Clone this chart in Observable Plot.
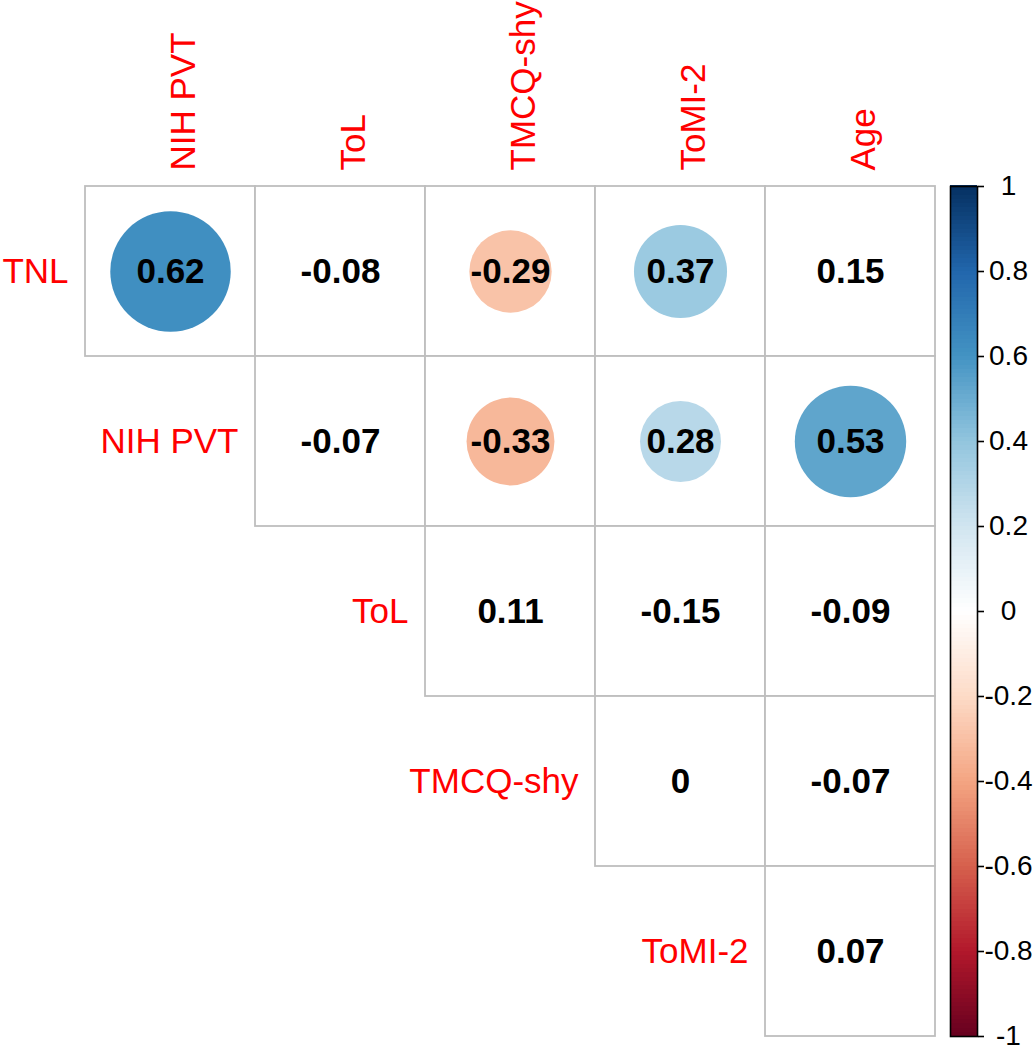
<!DOCTYPE html>
<html>
<head>
<meta charset="utf-8">
<script src="https://cdn.jsdelivr.net/npm/d3@7"></script>
<script src="https://cdn.jsdelivr.net/npm/@observablehq/plot@0.6"></script>
<style>
  html, body { margin: 0; padding: 0; background: #ffffff; }
  #wrap { position: relative; width: 1035px; height: 1050px; background: #ffffff; font-family: "Liberation Sans", Arial, sans-serif; }
  #wrap svg { overflow: visible; }
  #main { position: absolute; left: 0; top: 0; }
  #bar { position: absolute; left: 950px; top: 0; }
</style>
</head>
<body>
<div id="wrap"><div id="main"></div><div id="bar"></div></div>
<script>
// ---- data ----
const rowLabels = ["TNL", "NIH PVT", "ToL", "TMCQ-shy", "ToMI-2"];
const colLabels = ["NIH PVT", "ToL", "TMCQ-shy", "ToMI-2", "Age"];
// correlations per row (null = empty lower-triangle cell)
const corrTNL     = [0.62, -0.08, -0.29, 0.37, 0.15];
const corrNIHPVT  = [null, -0.07, -0.33, 0.28, 0.53];
const corrToL     = [null, null, 0.11, -0.15, -0.09];
const corrTMCQshy = [null, null, null, 0, -0.07];
const corrToMI2   = [null, null, null, null, 0.07];
// significance flags (circle drawn when true)
const sigTNL     = [true, false, true, true, false];
const sigNIHPVT  = [false, false, true, true, true];
const sigToL     = [false, false, false, false, false];
const sigTMCQshy = [false, false, false, false, false];
const sigToMI2   = [false, false, false, false, false];
// colour legend
const legendTicks = [-1, -0.8, -0.6, -0.4, -0.2, 0, 0.2, 0.4, 0.6, 0.8, 1];
const paletteStops = [-1, -0.8, -0.6, -0.4, -0.2, 0, 0.2, 0.4, 0.6, 0.8, 1];
const paletteColors = ["#67001F", "#B2182B", "#D6604D", "#F4A582", "#FDDBC7", "#FFFFFF",
                       "#D1E5F0", "#92C5DE", "#4393C3", "#2166AC", "#053061"];

// ---- build table ----
const corrRows = [corrTNL, corrNIHPVT, corrToL, corrTMCQshy, corrToMI2];
const sigRows = [sigTNL, sigNIHPVT, sigToL, sigTMCQshy, sigToMI2];
const cells = [];
rowLabels.forEach((row, i) => {
  colLabels.forEach((col, j) => {
    const v = corrRows[i][j];
    if (v !== null) cells.push({row, col, value: v, sig: sigRows[i][j]});
  });
});

const colorOpts = {type: "linear", domain: paletteStops, range: paletteColors, interpolate: "rgb"};
const font = "'Liberation Sans', Arial, sans-serif";

const main = Plot.plot({
  width: 1035,
  height: 1050,
  marginLeft: 85,
  marginRight: 100,
  marginTop: 186,
  marginBottom: 14,
  style: {fontFamily: font, background: "transparent", color: "black"},
  x: {domain: colLabels, padding: 0, axis: null},
  y: {domain: rowLabels, padding: 0, axis: null},
  color: colorOpts,
  r: {type: "sqrt", domain: [0, 1], range: [0, 76.5]},
  marks: [
    Plot.cell(cells, {x: "col", y: "row", fill: "white", stroke: "#BEBEBE", strokeWidth: 1.8, inset: 0}),
    Plot.dot(cells.filter(d => d.sig), {x: "col", y: "row", r: d => Math.abs(d.value), fill: "value"}),
    Plot.text(cells, {x: "col", y: "row", text: d => String(d.value), fontWeight: "bold", fontSize: 35, fill: "black"}),
    Plot.text(colLabels, {x: d => d, frameAnchor: "top", dy: -16, rotate: -90, textAnchor: "start", fill: "#FF0000", fontSize: 35}),
    Plot.text(rowLabels, {x: (d, i) => colLabels[i], y: d => d, dx: -102, textAnchor: "end", fill: "#FF0000", fontSize: 35})
  ]
});
document.getElementById("main").appendChild(main);

const steps = d3.range(200).map(i => -1 + i * 0.01);
const bar = Plot.plot({
  width: 85,
  height: 1050,
  marginLeft: 0,
  marginRight: 58,
  marginTop: 186,
  marginBottom: 14,
  style: {fontFamily: font, background: "transparent", color: "black"},
  y: {domain: [-1, 1], axis: null},
  color: colorOpts,
  marks: [
    Plot.rect(steps, {y1: d => d, y2: d => d + 0.012, fill: d => d + 0.005, shapeRendering: "crispEdges"}),
    Plot.frame({stroke: "black", strokeWidth: 1.6}),
    Plot.axisY(legendTicks, {anchor: "right", tickSize: 6, tickPadding: 25, textAnchor: "middle",
      fontSize: 28, tickFormat: d => String(d), stroke: "black", strokeWidth: 1.6, fill: "black"})
  ]
});
document.getElementById("bar").appendChild(bar);
</script>
</body>
</html>
